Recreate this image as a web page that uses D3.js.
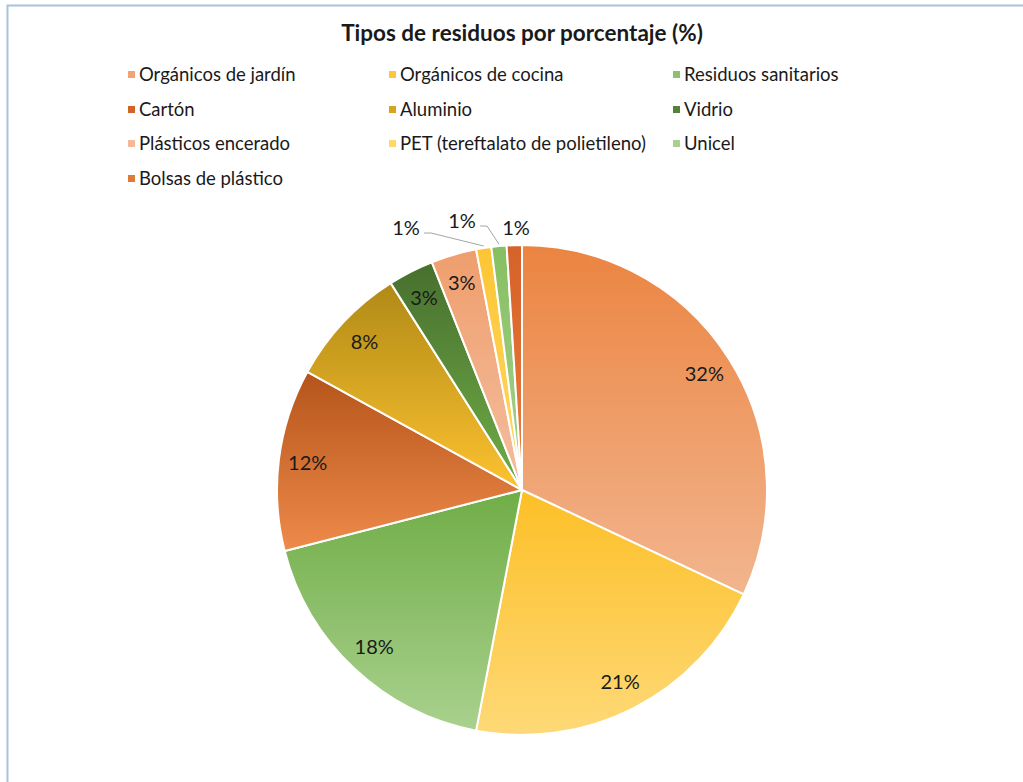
<!DOCTYPE html>
<html>
<head>
<meta charset="utf-8">
<script src="https://cdn.jsdelivr.net/npm/d3@7"></script>
<style>
  html, body { margin: 0; padding: 0; background: #fff; }
  svg { display: block; }
  text { font-family: Lato, "Open Sans", sans-serif; fill: #1a1a1a; }
</style>
</head>
<body>
<svg id="chart" width="1023" height="782"></svg>
<script>
// ---- data ----
const title = "Tipos de residuos por porcentaje (%)";
const categories = [
  "Orgánicos de jardín", "Orgánicos de cocina", "Residuos sanitarios",
  "Cartón", "Aluminio", "Vidrio",
  "Plásticos encerado", "PET (tereftalato de polietileno)", "Unicel",
  "Bolsas de plástico"
];
const values = [32, 21, 18, 12, 8, 3, 3, 1, 1, 1];
const valueLabels = ["32%", "21%", "18%", "12%", "8%", "3%", "3%", "1%", "1%", "1%"];

// ---- styles ----
const gradTop    = ["#EB8441", "#FCBF26", "#70AD47", "#B5541A", "#B08A16", "#476F2E", "#EF9E6D", "#FDC534", "#86BF62", "#D5622A"];
const gradBottom = ["#F2B58E", "#FED977", "#A9D18E", "#EE8A4A", "#FDC230", "#70AD47", "#F4BE9E", "#FFD966", "#A9D18E", "#EC7E3A"];
const legendColors = ["#F2A374", "#FEC733", "#8FC06C", "#D0652A", "#D6A41F", "#528437", "#F5B999", "#FFD966", "#A9D18E", "#E07A38"];

const W = 1023, H = 782;
const cx = 522, cy = 490, R = 245;
const labelR = 216;
// outside label offsets (relative to pie centre) for the small slices
const outsideOffsets = { 7: [-116, -262], 8: [-60, -269], 9: [-6, -262] };
const withLeader = new Set([7, 8]);

const svg = d3.select("#chart");
const defs = svg.append("defs");

// frame
svg.append("rect").attr("width", W).attr("height", H).attr("fill", "#fff");
svg.append("path")
  .attr("d", `M7.5,${H} V5.5 H${W}`)
  .attr("fill", "none").attr("stroke", "#A7C2DE").attr("stroke-width", 2);

// title
svg.append("text")
  .attr("x", cx).attr("y", 41)
  .attr("text-anchor", "middle")
  .attr("font-size", 22.5).attr("font-weight", "bold")
  .text(title);

// legend
const legendCols = [128, 389, 673];
const legendRows = [75, 110, 144, 179];
const legend = svg.append("g");
categories.forEach((c, i) => {
  const col = i % 3, row = Math.floor(i / 3);
  const g = legend.append("g").attr("transform", `translate(${legendCols[col]},${legendRows[row]})`);
  g.append("rect").attr("x", 0).attr("y", -4).attr("width", 7).attr("height", 7).attr("fill", legendColors[i]);
  g.append("text").attr("x", 11).attr("y", 0).attr("dy", "0.35em").attr("font-size", 18.5).text(c);
});

// gradients
categories.forEach((c, i) => {
  const lg = defs.append("linearGradient").attr("id", "g" + i)
    .attr("x1", 0).attr("y1", 0).attr("x2", 0).attr("y2", 1);
  lg.append("stop").attr("offset", "0%").attr("stop-color", gradTop[i]);
  lg.append("stop").attr("offset", "100%").attr("stop-color", gradBottom[i]);
});

// pie
const pie = d3.pie().sort(null).value(d => d.v);
const data = pie(values.map((v, i) => ({ v, i })));
const arc = d3.arc().innerRadius(0).outerRadius(R);
const labelArc = d3.arc().innerRadius(labelR).outerRadius(labelR);
const edgeArc = d3.arc().innerRadius(R).outerRadius(R);

const pg = svg.append("g").attr("transform", `translate(${cx},${cy})`);
pg.selectAll("path.slice").data(data).enter().append("path")
  .attr("class", "slice")
  .attr("d", arc)
  .attr("fill", d => `url(#g${d.data.i})`)
  .attr("stroke", "#fff").attr("stroke-width", 2).attr("stroke-linejoin", "round");

// leader lines
data.forEach(d => {
  const i = d.data.i;
  if (!withLeader.has(i)) return;
  const [ox, oy] = outsideOffsets[i];
  const [ex, ey] = edgeArc.centroid(d);
  const sx = ox + 18, sy = oy + 5;
  pg.append("polyline")
    .attr("points", `${sx},${sy} ${sx + 7},${sy} ${ex},${ey - 2}`)
    .attr("fill", "none").attr("stroke", "#A6A6A6").attr("stroke-width", 1);
});

// labels
pg.selectAll("text.lbl").data(data).enter().append("text")
  .attr("class", "lbl")
  .attr("text-anchor", "middle")
  .attr("dy", "0.35em")
  .attr("font-size", 20)
  .attr("x", d => outsideOffsets[d.data.i] ? outsideOffsets[d.data.i][0] : labelArc.centroid(d)[0])
  .attr("y", d => outsideOffsets[d.data.i] ? outsideOffsets[d.data.i][1] : labelArc.centroid(d)[1])
  .text(d => valueLabels[d.data.i]);
</script>
</body>
</html>
